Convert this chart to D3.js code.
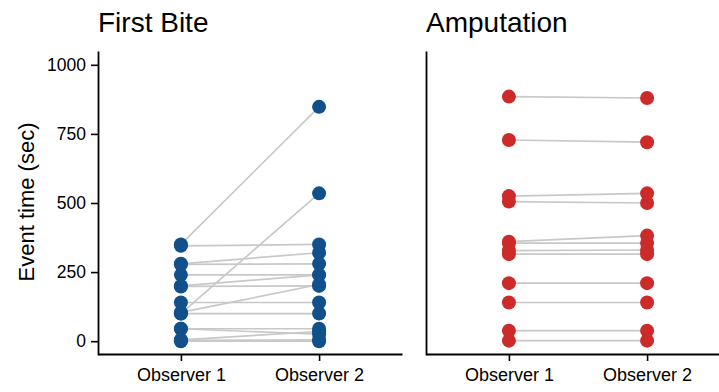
<!DOCTYPE html>
<html>
<head>
<meta charset="utf-8">
<script src="https://cdn.jsdelivr.net/npm/d3@7"></script>
<style>
  html, body { margin: 0; padding: 0; background: #fff; }
  svg text { font-family: "Liberation Sans", Arial, sans-serif; fill: #000; }
</style>
</head>
<body>
<svg id="chart" width="719" height="392"></svg>
<script>
// Observer categories and y ticks
const observers = ["Observer 1", "Observer 2"];
const yTicks = [0, 250, 500, 750, 1000];
const panelTitles = ["First Bite", "Amputation"];

// Event times (sec): paired scores, observer 1 vs observer 2
const biteObs1 = [350, 345, 280, 278, 240, 200, 198, 140, 100, 104, 100, 45, 45, 5, 3, 0];
const biteObs2 = [848, 350, 320, 280, 240, 240, 200, 140, 535, 205, 100, 45, 25, 35, 5, 0];
const ampObs1 = [885, 728, 525, 505, 360, 355, 328, 315, 210, 140, 38, 2];
const ampObs2 = [880, 720, 535, 500, 382, 355, 330, 315, 210, 140, 38, 2];

const colors = ["#12508b", "#cd2a2a"];
const lineColor = "#c8c8c8";

const svg = d3.select("#chart");

const y = d3.scaleLinear().domain([-50, 1050]).range([355, 51]);

const panels = [
  { title: panelTitles[0], o1: biteObs1, o2: biteObs2, left: 98, color: colors[0] },
  { title: panelTitles[1], o1: ampObs1, o2: ampObs2, left: 426, color: colors[1] }
];
const panelWidth = 304;

panels.forEach((p, i) => {
  const x = d3.scalePoint().domain(observers).range([p.left, p.left + panelWidth]).padding(0.6);
  const g = svg.append("g");

  // x axis
  const xAxis = g.append("g")
    .attr("transform", `translate(0,${y.range()[0] - 1})`)
    .call(d3.axisBottom(x).tickSize(7).tickSizeOuter(0).tickPadding(7));
  xAxis.select(".domain").attr("stroke", "#000").attr("stroke-width", 1.8);
  xAxis.selectAll(".tick line").attr("stroke", "#000").attr("stroke-width", 1.6);
  xAxis.selectAll(".tick text").attr("font-size", 18).attr("fill", "#1a1a1a")
    .attr("font-family", "'Liberation Sans', Arial, sans-serif");

  // y axis
  const yAxis = g.append("g")
    .attr("transform", `translate(${p.left},0)`)
    .call(d3.axisLeft(y).tickValues(yTicks).tickFormat(d3.format("d"))
      .tickSize(7).tickSizeOuter(0).tickPadding(5));
  yAxis.select(".domain").attr("stroke", "#000").attr("stroke-width", 1.8);
  yAxis.selectAll(".tick line").attr("stroke", "#000").attr("stroke-width", 1.6);
  yAxis.selectAll(".tick text").attr("font-size", 17.5).attr("fill", "#1a1a1a")
    .attr("font-family", "'Liberation Sans', Arial, sans-serif");
  if (i !== 0) yAxis.selectAll(".tick").remove();

  // pairing lines
  const pairs = p.o1.map((v, k) => [v, p.o2[k]]);
  g.append("g").selectAll("line").data(pairs).join("line")
    .attr("x1", x(observers[0])).attr("x2", x(observers[1]))
    .attr("y1", d => y(d[0])).attr("y2", d => y(d[1]))
    .attr("stroke", lineColor).attr("stroke-width", 1.7);

  // points
  const pts = [];
  p.o1.forEach(v => pts.push([observers[0], v]));
  p.o2.forEach(v => pts.push([observers[1], v]));
  g.append("g").selectAll("circle").data(pts).join("circle")
    .attr("cx", d => x(d[0])).attr("cy", d => y(d[1])).attr("r", 7)
    .attr("fill", p.color);

  // panel title
  svg.append("text").attr("x", p.left).attr("y", 32)
    .attr("font-size", 28).text(p.title);
});

// y axis title
svg.append("text")
  .attr("transform", "translate(34,202) rotate(-90)")
  .attr("text-anchor", "middle")
  .attr("font-size", 22)
  .text("Event time (sec)");
</script>
</body>
</html>
